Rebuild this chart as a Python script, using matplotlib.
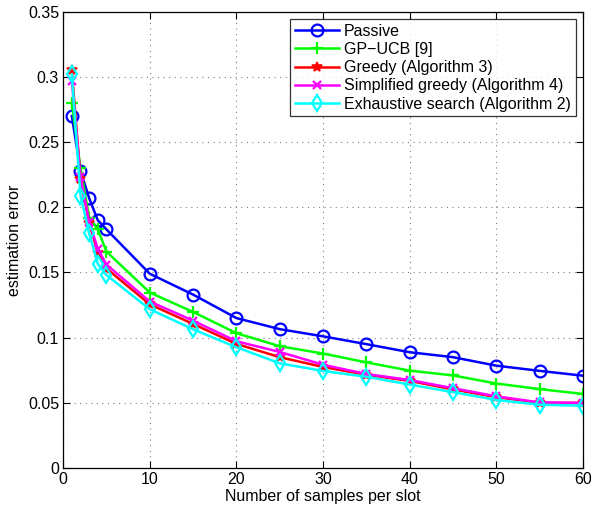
import matplotlib
matplotlib.use("Agg")
import matplotlib.pyplot as plt

plt.rcParams['font.family'] = ['Liberation Sans', 'DejaVu Sans']

x = [1, 2, 3, 4, 5, 10, 15, 20, 25, 30, 35, 40, 45, 50, 55, 60]
passive = [0.270, 0.228, 0.207, 0.190, 0.183, 0.149, 0.133, 0.115, 0.1065, 0.101, 0.095, 0.0888, 0.085, 0.0785, 0.0745, 0.0708]
gpucb = [0.280, 0.230, 0.192, 0.183, 0.166, 0.1346, 0.1197, 0.1034, 0.0934, 0.0878, 0.081, 0.0747, 0.071, 0.0648, 0.0605, 0.0568]
greedy = [0.305, 0.222, 0.188, 0.165, 0.153, 0.1255, 0.1105, 0.0952, 0.085, 0.0775, 0.0715, 0.0668, 0.0603, 0.0543, 0.0500, 0.0498]
simplified = [0.297, 0.223, 0.189, 0.168, 0.156, 0.1277, 0.113, 0.0972, 0.089, 0.0792, 0.0721, 0.0675, 0.0612, 0.0550, 0.0503, 0.0500]
exhaustive = [0.302, 0.209, 0.180, 0.1566, 0.148, 0.1218, 0.1064, 0.0926, 0.0803, 0.0744, 0.0700, 0.0640, 0.0582, 0.0522, 0.0485, 0.0478]

labels = ["Passive", "GP\u2212UCB [9]", "Greedy (Algorithm 3)",
          "Simplified greedy (Algorithm 4)", "Exhaustive search (Algorithm 2)"]

fs = 11.5
fig = plt.figure(figsize=(5.96, 5.12), dpi=100)
ax = fig.add_axes([0.106, 0.086, 0.872, 0.891])

lw = 1.8
ax.plot(x, passive, color='#0000ff', marker='o', mfc='none', ms=8.5, mew=1.6, lw=lw, label=labels[0])
ax.plot(x, gpucb, color='#00ff00', marker='+', ms=8, mew=1.6, lw=lw, label=labels[1])
ax.plot(x, greedy, color='#ff0000', marker='*', ms=7, mew=1.2, lw=lw, label=labels[2])
ax.plot(x, simplified, color='#ff00ff', marker='x', ms=6, mew=1.6, lw=lw, label=labels[3])
ax.plot(x, exhaustive, color='#00ffff', marker='d', mfc='none', ms=8.5, mew=1.6, lw=lw, label=labels[4])

ax.set_xlim(0, 60)
ax.set_ylim(0, 0.35)
ax.set_xticks([0, 10, 20, 30, 40, 50, 60])
ax.set_yticks([0, 0.05, 0.1, 0.15, 0.2, 0.25, 0.3, 0.35])
ax.set_yticklabels(['0', '0.05', '0.1', '0.15', '0.2', '0.25', '0.3', '0.35'])
ax.tick_params(direction='in', top=True, right=True, labelsize=fs, length=5, pad=3)
ax.grid(True, linestyle=(0, (1, 4)), color='#808080', lw=0.8)
ax.set_xlabel('Number of samples per slot', fontsize=fs, labelpad=1)
ax.set_ylabel('estimation error', fontsize=fs, labelpad=4)
for s in ax.spines.values():
    s.set_linewidth(0.9)

leg = ax.legend(loc='upper right', fontsize=fs, frameon=True, fancybox=False,
                edgecolor='black', borderaxespad=0.45, handlelength=2.8,
                labelspacing=0.2, borderpad=0.3, handletextpad=0.3)
leg.get_frame().set_linewidth(0.9)

fig.savefig('out.png', dpi=100)
